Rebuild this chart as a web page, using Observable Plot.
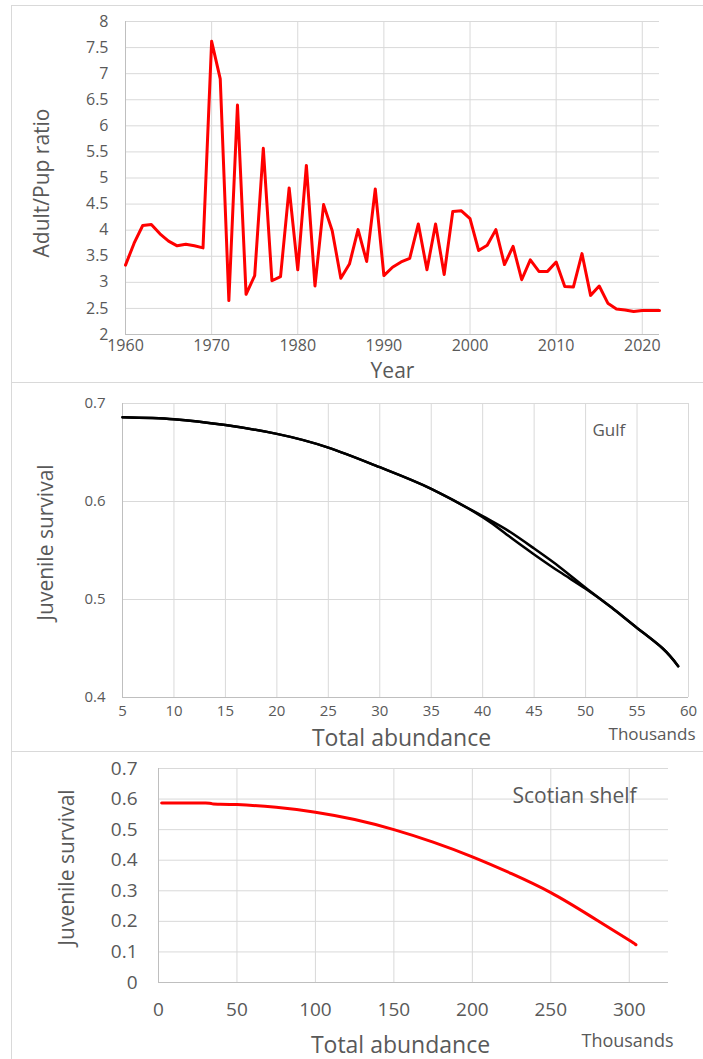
<!DOCTYPE html>
<html><head><meta charset="utf-8">
<script src="https://cdn.jsdelivr.net/npm/d3@7"></script>
<script src="https://cdn.jsdelivr.net/npm/@observablehq/plot@0.6"></script>
<style>
body{margin:0;background:#fff;}
#wrap{position:relative;width:703px;height:1059px;overflow:hidden;font-family:"Open Sans",sans-serif;}
.p{position:absolute;left:0;}
.hl{position:absolute;left:11px;right:0;height:1px;background:#d9d9d9;}
.vl{position:absolute;left:11px;top:5px;bottom:0;width:1px;background:#d9d9d9;}
</style></head><body>
<div id="wrap">
  <div class="vl"></div>
  <div class="hl" style="top:5px"></div>
  <div class="hl" style="top:382px"></div>
  <div class="hl" style="top:751px"></div>
  <div class="p" id="p1" style="top:0"></div>
  <div class="p" id="p2" style="top:382px"></div>
  <div class="p" id="p3" style="top:751px"></div>
</div>
<script>
// ---- Panel 1: Adult/Pup ratio by year ----
const years = [1960,1961,1962,1963,1964,1965,1966,1967,1968,1969,
  1970,1971,1972,1973,1974,1975,1976,1977,1978,1979,
  1980,1981,1982,1983,1984,1985,1986,1987,1988,1989,
  1990,1991,1992,1993,1994,1995,1996,1997,1998,1999,
  2000,2001,2002,2003,2004,2005,2006,2007,2008,2009,
  2010,2011,2012,2013,2014,2015,2016,2017,2018,2019,
  2020,2021,2022];
const ratios = [3.33,3.75,4.09,4.11,3.93,3.79,3.70,3.73,3.70,3.66,
  7.62,6.90,2.65,6.40,2.77,3.13,5.57,3.03,3.11,4.81,
  3.24,5.24,2.93,4.49,3.99,3.08,3.35,4.01,3.40,4.79,
  3.13,3.29,3.39,3.46,4.12,3.24,4.12,3.15,4.36,4.37,
  4.22,3.61,3.71,4.01,3.34,3.69,3.05,3.43,3.21,3.21,
  3.39,2.92,2.91,3.55,2.75,2.93,2.60,2.49,2.47,2.44,
  2.46,2.46,2.46];
const yearTicks = [1960,1970,1980,1990,2000,2010,2020];
const ratioTicks = [2,2.5,3,3.5,4,4.5,5,5.5,6,6.5,7,7.5,8];

// ---- Panel 2: Gulf (overlapping model runs) ----
const gulfAbundance = [5,10,15,20,25,30,35,40,42.5,45,47.5,50,52.5,55,57.5,59];
const gulfSurvivalA = [0.686,0.684,0.678,0.669,0.655,0.635,0.613,0.585,0.570,0.552,0.533,0.512,0.492,0.471,0.450,0.432];
const gulfSurvivalB = [0.686,0.684,0.678,0.669,0.655,0.635,0.613,0.584,0.565,0.546,0.528,0.511,0.492,0.471,0.450,0.432];
const gulfXTicks = [5,10,15,20,25,30,35,40,45,50,55,60];
const gulfYTicks = [0.4,0.5,0.6,0.7];

// ---- Panel 3: Scotian shelf ----
const shelfAbundance = [2,30,35,50,75,100,125,150,175,200,225,250,275,300,304];
const shelfSurvival = [0.587,0.587,0.584,0.582,0.573,0.557,0.533,0.500,0.459,0.411,0.356,0.294,0.218,0.138,0.124];
const shelfXTicks = [0,50,100,150,200,250,300];
const shelfYTicks = [0,0.1,0.2,0.3,0.4,0.5,0.6,0.7];

const GRID = "#d9d9d9", AXIS = "#bfbfbf", TXT = "#595959";
const baseStyle = {fontFamily: "'Open Sans', sans-serif", background: "transparent", color: TXT, overflow: "visible"};

const ratioData = years.map((y, i) => ({year: y, ratio: ratios[i]}));
const p1 = Plot.plot({
  width: 703, height: 378,
  marginLeft: 125, marginRight: 44, marginTop: 21, marginBottom: 44,
  style: baseStyle,
  x: {domain: [1960, 2022], axis: null},
  y: {domain: [2, 8], axis: null},
  marks: [
    Plot.gridX(yearTicks.slice(1), {stroke: GRID, strokeOpacity: 1}),
    Plot.gridY(ratioTicks.slice(1), {stroke: GRID, strokeOpacity: 1}),
    Plot.ruleX([1960], {stroke: AXIS}),
    Plot.ruleY([2], {stroke: AXIS}),
    Plot.axisX(yearTicks, {tickSize: 0, tickPadding: 5, fontSize: 16, fill: TXT, tickFormat: d => String(d), label: null}),
    Plot.axisY(ratioTicks, {tickSize: 0, tickPadding: 17, fontSize: 16, fill: TXT, tickFormat: d => String(d), label: null}),
    Plot.line(ratioData, {x: "year", y: "ratio", stroke: "#ff0000", strokeWidth: 3}),
    Plot.text(["Year"], {frameAnchor: "bottom", dy: 43, fontSize: 21, fill: TXT}),
    Plot.text(["Adult/Pup ratio"], {frameAnchor: "left", textAnchor: "middle", rotate: -90, dx: -83, dy: 5, fontSize: 21, fill: TXT})
  ]
});
document.getElementById("p1").appendChild(p1);

const gulfData = [
  ...gulfAbundance.map((a, i) => ({a, s: gulfSurvivalA[i], run: "A"})),
  ...gulfAbundance.map((a, i) => ({a, s: gulfSurvivalB[i], run: "B"}))
];
const p2 = Plot.plot({
  width: 703, height: 369,
  marginLeft: 122, marginRight: 15, marginTop: 21, marginBottom: 54,
  style: baseStyle,
  x: {domain: [5, 60], axis: null},
  y: {domain: [0.4, 0.7], axis: null},
  marks: [
    Plot.gridX(gulfXTicks.slice(1), {stroke: GRID, strokeOpacity: 1}),
    Plot.gridY(gulfYTicks.slice(1), {stroke: GRID, strokeOpacity: 1}),
    Plot.ruleX([5], {stroke: AXIS}),
    Plot.ruleY([0.4], {stroke: AXIS}),
    Plot.axisX(gulfXTicks, {tickSize: 0, tickPadding: 8, fontSize: 15, fill: TXT, tickFormat: d => String(d), label: null}),
    Plot.axisY(gulfYTicks, {tickSize: 0, tickPadding: 17, fontSize: 15, fill: TXT, tickFormat: d => String(d), label: null}),
    Plot.line(gulfData, {x: "a", y: "s", z: "run", stroke: "#000", strokeWidth: 2.5, curve: "natural"}),
    Plot.text(["Gulf"], {frameAnchor: "top-right", textAnchor: "start", dx: -96, dy: 20, fontSize: 17, fill: TXT}),
    Plot.text(["Total abundance"], {frameAnchor: "bottom", dx: -4, dy: 48, fontSize: 23, fill: TXT}),
    Plot.text(["Thousands"], {frameAnchor: "bottom-right", textAnchor: "end", dx: 7, dy: 42, fontSize: 17, fill: TXT}),
    Plot.text(["Juvenile survival"], {frameAnchor: "left", textAnchor: "middle", rotate: -90, dx: -76, dy: -8, fontSize: 21, fill: TXT})
  ]
});
document.getElementById("p2").appendChild(p2);

const shelfData = shelfAbundance.map((a, i) => ({a, s: shelfSurvival[i]}));
const p3 = Plot.plot({
  width: 703, height: 308,
  marginLeft: 158, marginRight: 35, marginTop: 17, marginBottom: 77,
  style: baseStyle,
  x: {domain: [0, 325], axis: null},
  y: {domain: [0, 0.7], axis: null},
  marks: [
    Plot.gridX(shelfXTicks.slice(1), {stroke: GRID, strokeOpacity: 1}),
    Plot.gridY(shelfYTicks.slice(1), {stroke: GRID, strokeOpacity: 1}),
    Plot.ruleX([0], {stroke: AXIS}),
    Plot.ruleY([0], {stroke: AXIS}),
    Plot.axisX(shelfXTicks, {tickSize: 0, tickPadding: 20, fontSize: 19, fill: TXT, tickFormat: d => String(d), label: null}),
    Plot.axisY(shelfYTicks, {tickSize: 0, tickPadding: 21, fontSize: 19, fill: TXT, tickFormat: d => String(d), label: null}),
    Plot.line(shelfData, {x: "a", y: "s", stroke: "#ff0000", strokeWidth: 3, curve: "natural"}),
    Plot.text(["Scotian shelf"], {frameAnchor: "top-right", textAnchor: "start", dx: -156, dy: 20, fontSize: 21, fill: TXT}),
    Plot.text(["Total abundance"], {frameAnchor: "bottom", dx: -13, dy: 70, fontSize: 23, fill: TXT}),
    Plot.text(["Thousands"], {frameAnchor: "bottom-right", textAnchor: "end", dx: 5, dy: 64, fontSize: 18, fill: TXT}),
    Plot.text(["Juvenile survival"], {frameAnchor: "left", textAnchor: "middle", rotate: -90, dx: -91, dy: -8, fontSize: 21, fill: TXT})
  ]
});
document.getElementById("p3").appendChild(p3);
</script>
</body></html>
